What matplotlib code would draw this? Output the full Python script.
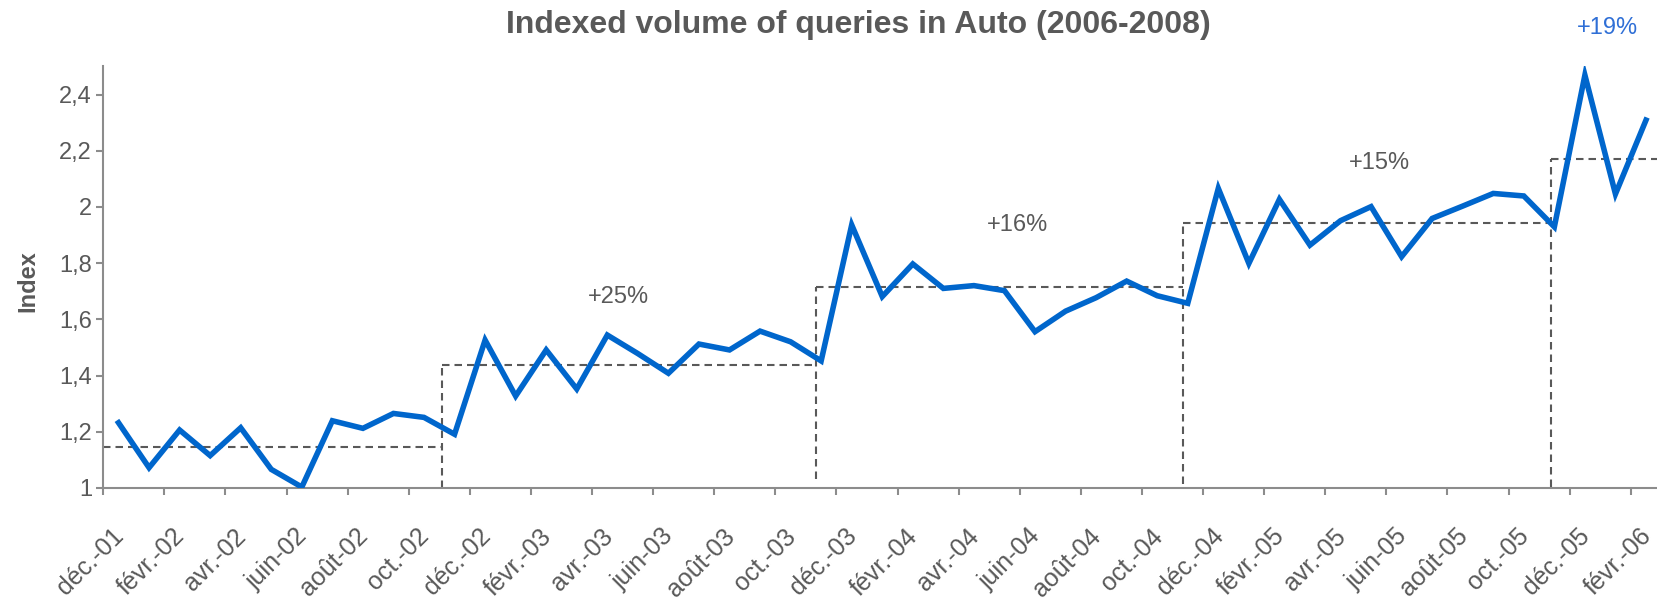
import matplotlib
matplotlib.use("Agg")
import matplotlib.pyplot as plt
import matplotlib.transforms as mtransforms
import numpy as np

plt.rcParams['font.family'] = ['Liberation Sans', 'DejaVu Sans']

# monthly index, déc.-01 .. févr.-06
values = [1.232, 1.072, 1.206, 1.115, 1.214, 1.066, 1.003, 1.239, 1.212, 1.265,
          1.251, 1.191, 1.526, 1.327, 1.491, 1.352, 1.544, 1.478, 1.408, 1.512,
          1.491, 1.558, 1.520, 1.452, 1.936, 1.681, 1.797, 1.710, 1.720, 1.702,
          1.556, 1.629, 1.677, 1.736, 1.684, 1.657, 2.066, 1.799, 2.027, 1.864,
          1.951, 2.001, 1.823, 1.959, 2.003, 2.048, 2.039, 1.929, 2.469, 2.046,
          2.309]
tick_labels = ["déc.-01", "févr.-02", "avr.-02", "juin-02", "août-02", "oct.-02",
               "déc.-02", "févr.-03", "avr.-03", "juin-03", "août-03", "oct.-03",
               "déc.-03", "févr.-04", "avr.-04", "juin-04", "août-04", "oct.-04",
               "déc.-04", "févr.-05", "avr.-05", "juin-05", "août-05", "oct.-05",
               "déc.-05", "févr.-06"]

# yearly average steps (dashed)
step_breaks = [-0.5, 10.58, 22.83, 34.85, 46.88, 50.36]
step_levels = [1.147, 1.436, 1.714, 1.943, 2.170]
step_bottoms = [1.0, 1.03, 1.015, 1.005]

growth_labels = ["+25%", "+16%", "+15%", "+19%"]
growth_x = [16.35, 29.44, 41.29, 48.75]
growth_y = [1.679, 1.936, 2.155, 2.636]
growth_colors = ['#595959', '#595959', '#595959', '#2f6fd6']

gray = '#595959'
spine_gray = '#8c8c8c'

fig = plt.figure(figsize=(16.57, 5.98), dpi=100)
ax = fig.add_axes([0.0623, 0.1841, 0.9377, 0.7048])

x = np.arange(len(values))
ax.plot(x, values, color='#0066CC', linewidth=4.0, solid_joinstyle='miter', zorder=3)

for i in range(len(step_levels)):
	ax.plot([step_breaks[i], step_breaks[i + 1]], [step_levels[i], step_levels[i]],
	        color=gray, linewidth=1.5, dashes=(3.6, 2.4), zorder=2)
	if i < len(step_bottoms):
		xb = step_breaks[i + 1]
		ax.plot([xb, xb], [step_bottoms[i], step_levels[i + 1]],
		        color=gray, linewidth=1.5, dashes=(3.6, 2.4), zorder=2)

for lbl, gx, gy, gc in zip(growth_labels, growth_x, growth_y, growth_colors):
	ax.text(gx, gy, lbl, color=gc, fontsize=17, ha='center', va='center', clip_on=False)

ax.set_xlim(-0.5, 50.36)
ax.set_ylim(1.0, 2.5)
ax.set_yticks([1.0, 1.2, 1.4, 1.6, 1.8, 2.0, 2.2, 2.4])
ax.set_yticklabels(["1", "1,2", "1,4", "1,6", "1,8", "2", "2,2", "2,4"])

ax.set_xticks(np.arange(0, len(values), 2))
ax.set_xticklabels(tick_labels, rotation=45, ha='right', va='top', rotation_mode='anchor')
ax.set_xticks(np.arange(-0.5, 50.0, 2), minor=True)
ax.tick_params(axis='x', which='major', length=0, pad=26, labelsize=18, colors=gray)
ax.tick_params(axis='x', which='minor', length=5, width=1.5, color=spine_gray, direction='out')
ax.tick_params(axis='y', length=5, width=1.5, color=spine_gray, pad=3, labelsize=17, labelcolor=gray)

shift = mtransforms.ScaledTranslation(-7 / 100, 0, fig.dpi_scale_trans)
for lab in ax.get_xticklabels():
	lab.set_transform(lab.get_transform() + shift)

for s in ['top', 'right']:
	ax.spines[s].set_visible(False)
for s in ['left', 'bottom']:
	ax.spines[s].set_color(spine_gray)
	ax.spines[s].set_linewidth(1.5)

ax.set_ylabel('Index', fontweight='bold', fontsize=17, color=gray)
ax.yaxis.set_label_coords(-0.041, 0.49)

fig.text(0.518, 0.959, 'Indexed volume of queries in Auto (2006-2008)', fontweight='bold',
         fontsize=23, color=gray, ha='center', va='center')

plt.savefig("out.png", dpi=100)
